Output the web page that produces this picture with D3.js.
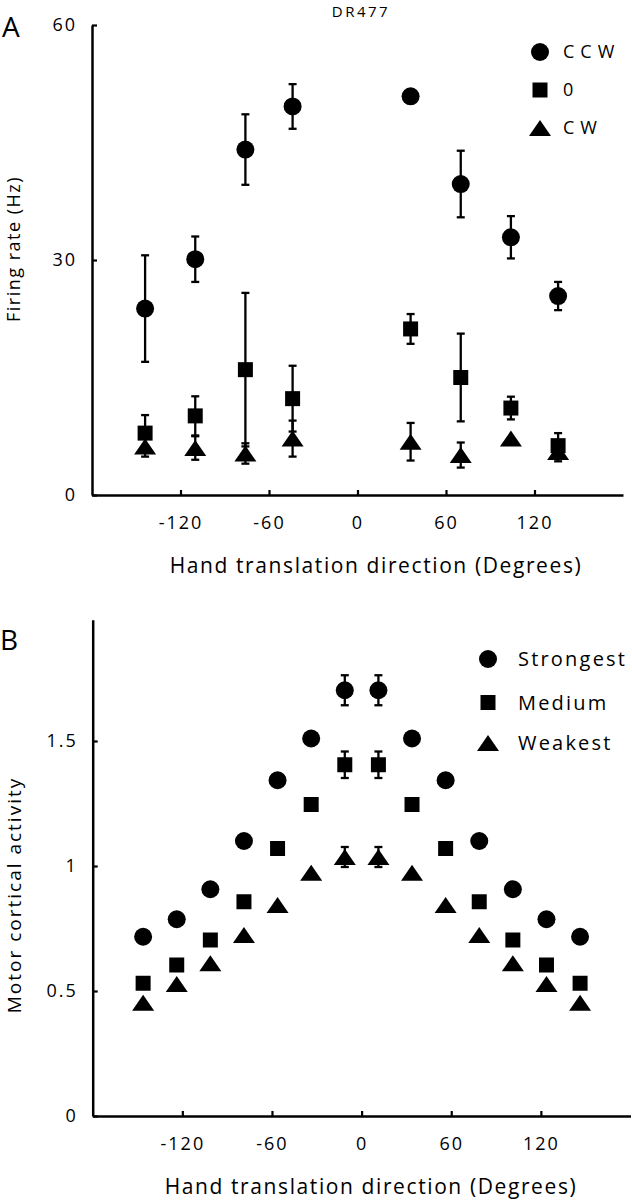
<!DOCTYPE html>
<html>
<head>
<meta charset="utf-8">
<script src="https://cdn.jsdelivr.net/npm/d3@7"></script>
<style>
  html, body { margin: 0; padding: 0; background: #fff; }
  svg { display: block; font-family: "Open Sans", "Noto Sans", sans-serif; }
</style>
</head>
<body>
<svg id="chart" width="632" height="1200"></svg>
<script>
// ---------- Panel A data (DR477) ----------
const dirA = [-144, -110, -76, -44, 36, 70, 104, 136];
const ccwA = [23.8, 30.1, 44.1, 49.6, 50.9, 39.7, 32.9, 25.4];
const ccwErrA = [6.8, 2.9, 4.5, 2.85, 0, 4.25, 2.7, 1.8];
const zeroA = [7.9, 10.1, 16.0, 12.3, 21.2, 15.0, 11.1, 6.3];
const zeroErrA = [2.3, 2.5, 9.8, 4.2, 1.9, 5.6, 1.45, 1.6];
const cwA = [6.2, 6.0, 5.3, 7.2, 6.8, 5.1, 7.2, 5.5];
const cwErrA = [1.3, 1.5, 1.3, 2.3, 2.4, 1.6, 0, 1.2];
const seriesNamesA = ["CCW", "0", "CW"];
const xTicksA = [-120, -60, 0, 60, 120];
const xTickLabelsA = ["-120", "-60", "0", "60", "120"];
const yTicksA = [0, 30, 60];
const yTickLabelsA = ["0", "30", "60"];

// ---------- Panel B data ----------
const dirB = [-146.25, -123.75, -101.25, -78.75, -56.25, -33.75, -11.25, 11.25, 33.75, 56.25, 78.75, 101.25, 123.75, 146.25];
const strongestB = [0.717, 0.787, 0.907, 1.10, 1.343, 1.51, 1.703, 1.703, 1.51, 1.343, 1.10, 0.907, 0.787, 0.717];
const strongestErrB = [0, 0, 0, 0, 0, 0, 0.06, 0.06, 0, 0, 0, 0, 0, 0];
const mediumB = [0.531, 0.604, 0.704, 0.857, 1.07, 1.246, 1.405, 1.405, 1.246, 1.07, 0.857, 0.704, 0.604, 0.531];
const mediumErrB = [0, 0, 0, 0, 0, 0, 0.053, 0.053, 0, 0, 0, 0, 0, 0];
const weakestB = [0.453, 0.528, 0.611, 0.724, 0.844, 0.973, 1.036, 1.036, 0.973, 0.844, 0.724, 0.611, 0.528, 0.453];
const weakestErrB = [0, 0, 0, 0, 0, 0, 0.04, 0.04, 0, 0, 0, 0, 0, 0];
const seriesNamesB = ["Strongest", "Medium", "Weakest"];
const xTicksB = [-120, -60, 0, 60, 120];
const xTickLabelsB = ["-120", "-60", "0", "60", "120"];
const yTicksB = [0, 0.5, 1, 1.5];
const yTickLabelsB = ["0", "0.5", "1", "1.5"];

const svg = d3.select("#chart");
const INK = "#000";

function markerPath(shape) {
  if (shape === "circle") return d3.symbol(d3.symbolCircle, Math.PI * 9 * 9)();
  if (shape === "square") return "M-7.5,-7.5H7.5V7.5H-7.5Z";
  return "M0,-8L11,8H-11Z"; // triangle, bbox centered
}

function drawPanel(opt) {
  const g = svg.append("g");
  const x = d3.scaleLinear().domain([-180, 180]).range(opt.xRange);
  const y = d3.scaleLinear().domain(opt.yDomain).range(opt.yRange);

  // axes
  const xAxis = d3.axisBottom(x).tickValues(opt.xTicks)
    .tickFormat((d, i) => opt.xTickLabels[i])
    .tickSizeInner(-5).tickSizeOuter(0).tickPadding(21);
  const gx = g.append("g").attr("transform", `translate(0,${y(0)})`).call(xAxis);
  const yAxis = d3.axisLeft(y).tickValues(opt.yTicks)
    .tickFormat((d, i) => opt.yTickLabels[i])
    .tickSizeInner(-5).tickSizeOuter(0).tickPadding(17);
  const gy = g.append("g").attr("transform", `translate(${x(-180)},0)`).call(yAxis);
  [gx, gy].forEach(a => {
    a.select(".domain").attr("stroke", INK).attr("stroke-width", 2.5);
    a.selectAll(".tick line").attr("stroke", INK).attr("stroke-width", 2.2);
    a.selectAll(".tick text").attr("fill", INK).attr("font-size", 18)
      .attr("font-family", '"Open Sans", sans-serif').style("letter-spacing", "2px");
  });
  gy.selectAll(".tick text").attr("dx", "2px");

  // series
  opt.series.forEach(s => {
    const pts = opt.dirs.map((d, i) => ({ d, v: s.values[i], e: s.errs[i] }));
    const eb = g.append("g").attr("stroke", INK).attr("stroke-width", 2.3).attr("fill", "none");
    pts.filter(p => p.e > 0).forEach(p => {
      const cx = x(p.d);
      eb.append("line").attr("x1", cx).attr("x2", cx).attr("y1", y(p.v - p.e)).attr("y2", y(p.v + p.e));
      eb.append("line").attr("x1", cx - 4).attr("x2", cx + 4).attr("y1", y(p.v + p.e)).attr("y2", y(p.v + p.e));
      eb.append("line").attr("x1", cx - 4).attr("x2", cx + 4).attr("y1", y(p.v - p.e)).attr("y2", y(p.v - p.e));
    });
    g.append("g").selectAll("path").data(pts).join("path")
      .attr("d", markerPath(s.shape))
      .attr("transform", p => `translate(${x(p.d)},${y(p.v)})`)
      .attr("fill", INK);
  });

  // legend
  const lg = g.append("g");
  opt.series.forEach((s, i) => {
    const ly = opt.legend.y0 + i * opt.legend.dy[i];
    lg.append("path").attr("d", markerPath(s.shape))
      .attr("transform", `translate(${opt.legend.x},${ly})`).attr("fill", INK);
    lg.append("text").attr("x", opt.legend.x + opt.legend.tx).attr("y", ly)
      .attr("dy", "0.36em").attr("font-size", opt.legend.fs)
      .style("letter-spacing", opt.legend.ls + "px")
      .attr("fill", INK).text(s.name);
  });

  // axis titles
  g.append("text").attr("x", opt.xTitle[0]).attr("y", opt.xTitle[1])
    .attr("text-anchor", "middle").attr("font-size", 21).style("letter-spacing", "1.6px")
    .attr("fill", INK).text("Hand translation direction (Degrees)");
  g.append("text").attr("transform", `translate(${opt.yTitle[0]},${opt.yTitle[1]}) rotate(-90)`)
    .attr("text-anchor", "middle").attr("font-size", opt.yTitle[2]).style("letter-spacing", opt.yTitle[3] + "px")
    .attr("fill", INK).text(opt.yTitleText);
  g.append("text").attr("x", opt.letter[0]).attr("y", opt.letter[1])
    .attr("font-size", 28).attr("fill", INK).text(opt.letterText);
}

drawPanel({
  xRange: [92, 623],
  yDomain: [0, 60], yRange: [495, 25],
  xTicks: xTicksA, xTickLabels: xTickLabelsA,
  yTicks: yTicksA, yTickLabels: yTickLabelsA,
  dirs: dirA,
  series: [
    { name: seriesNamesA[0], shape: "circle", values: ccwA, errs: ccwErrA },
    { name: seriesNamesA[1], shape: "square", values: zeroA, errs: zeroErrA },
    { name: seriesNamesA[2], shape: "triangle", values: cwA, errs: cwErrA }
  ],
  legend: { x: 540, y0: 52, dy: [38, 38, 38], tx: 23, fs: 18, ls: 6 },
  xTitle: [376, 573],
  yTitle: [20, 249, 18, 1.5], yTitleText: "Firing rate (Hz)",
  letter: [2, 37], letterText: "A"
});

drawPanel({
  xRange: [92.7, 630.5],
  yDomain: [0, 1.985], yRange: [1116, 1116 - 1.985 * 250],
  xTicks: xTicksB, xTickLabels: xTickLabelsB,
  yTicks: yTicksB, yTickLabels: yTickLabelsB,
  dirs: dirB,
  series: [
    { name: seriesNamesB[0], shape: "circle", values: strongestB, errs: strongestErrB },
    { name: seriesNamesB[1], shape: "square", values: mediumB, errs: mediumErrB },
    { name: seriesNamesB[2], shape: "triangle", values: weakestB, errs: weakestErrB }
  ],
  legend: { x: 488, y0: 659, dy: [0, 43.5, 42], tx: 30, fs: 20, ls: 2.2 },
  xTitle: [371, 1194],
  yTitle: [21, 895, 19, 2], yTitleText: "Motor cortical activity",
  letter: [0, 650], letterText: "B"
});

// title of panel A
svg.append("text").attr("x", 361).attr("y", 17).attr("text-anchor", "middle")
  .attr("font-size", 15).style("letter-spacing", "2.5px").attr("fill", INK).text("DR477");
</script>
</body>
</html>
